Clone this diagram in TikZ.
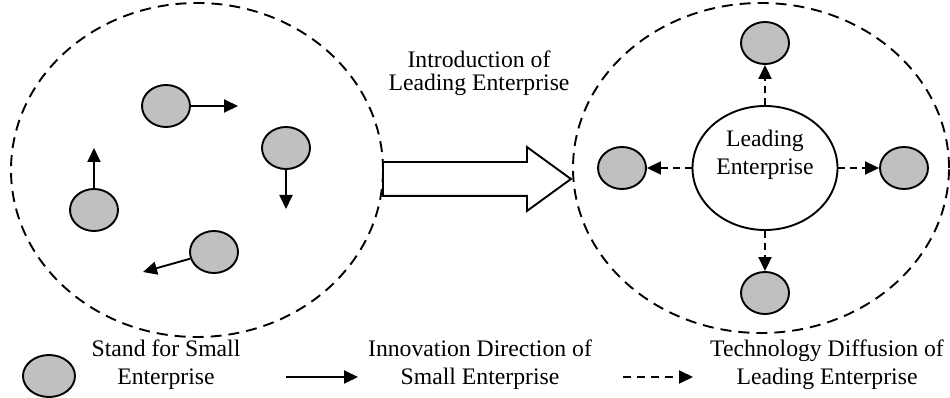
\documentclass[tikz,border=0pt]{standalone}
\usepackage{fontspec}
\setmainfont{Liberation Serif}
\usetikzlibrary{shapes,arrows.meta,positioning}
\definecolor{firmgray}{RGB}{192,192,192}
\tikzset{
group/.style = {draw, ellipse, dash pattern=on 11pt off 7pt, line width=1.9pt, inner sep=0pt},
firm/.style = {draw, fill=firmgray, ellipse, line width=1.9pt, minimum width=48pt, minimum height=42pt, inner sep=0pt},
leader/.style = {draw, fill=white, ellipse, line width=1.9pt, minimum width=145pt, minimum height=124pt, inner sep=0pt, align=center, text depth=31pt},
txt/.style = {align=center},
tmp/.style = {coordinate},
innov/.style = {->, line width=1.9pt},
diffuse/.style = {->, line width=1.9pt, dash pattern=on 7pt off 5pt},
bigarrow/.style = {draw, single arrow, line width=1.9pt, text height=16pt, text depth=16pt, minimum height=188pt, minimum width=62pt, single arrow head extend=15pt, single arrow tip angle=72, inner sep=0pt}
}

\begin{document}
\begin{tikzpicture}[x=1pt, y=-1pt, node distance=60pt, >={Triangle[length=14pt,width=13pt]}, font=\fontsize{23.7}{28}\selectfont]
	\useasboundingbox (0,0) rectangle (950,398);
	% small enterprises on their own
	\node[group, minimum width=372pt, minimum height=334pt] (before) at (197,170) {};
	\node[firm] (firmA) at (166,106) {};
	\node[firm] (firmB) at (286,148) {};
	\node[firm] (firmC) at (94,210) {};
	\node[firm] (firmD) at (214,252) {};
	\node[tmp, right of=firmA, node distance=72pt] (dirA) {};
	\node[tmp, below of=firmB, node distance=61pt] (dirB) {};
	\node[tmp, above of=firmC, node distance=62pt] (dirC) {};
	\node[tmp] (dirD) at (143,272) {};
	\draw[innov] (firmA) -- (dirA);
	\draw[innov] (firmB) -- (dirB);
	\draw[innov] (firmC) -- (dirC);
	\draw[innov] (firmD) -- (dirD);
	% introduction of the leading enterprise
	\node[bigarrow, anchor=tail] (intro) at (382,179) {};
	\node[txt, font=\fontsize{23.7}{23}\selectfont] (introtext) at (479,73) {Introduction of\\Leading Enterprise};
	% leading enterprise in the middle
	\node[group, minimum width=376pt, minimum height=330pt] (after) at (761,168) {};
	\node[leader] (lead) at (765,168) {Leading\\Enterprise};
	\node[firm, above of=lead, node distance=125pt] (firmN) {};
	\node[firm, below of=lead, node distance=125pt] (firmS) {};
	\node[firm, left of=lead, node distance=143pt] (firmW) {};
	\node[firm, right of=lead, node distance=139pt] (firmE) {};
	\draw[diffuse] (lead) -- (firmN);
	\draw[diffuse] (lead) -- (firmS);
	\draw[diffuse] (lead) -- (firmW);
	\draw[diffuse] (lead) -- (firmE);
	% legend
	\node[firm, minimum width=52pt] (keyfirm) at (49,376) {};
	\node[txt] (keyfirmtext) at (166,365) {Stand for Small\\Enterprise};
	\node[tmp] (keyinnovL) at (286,377) {};
	\node[tmp, right of=keyinnovL, node distance=72pt] (keyinnovR) {};
	\draw[innov] (keyinnovL) -- (keyinnovR);
	\node[txt] (keyinnovtext) at (480,365) {Innovation Direction of\\Small Enterprise};
	\node[tmp] (keydiffL) at (623,377) {};
	\node[tmp, right of=keydiffL, node distance=70pt] (keydiffR) {};
	\draw[diffuse, dash pattern=on 8pt off 6pt] (keydiffL) -- (keydiffR);
	\node[txt] (keydifftext) at (827,365) {Technology Diffusion of\\Leading Enterprise};
\end{tikzpicture}
\end{document}
